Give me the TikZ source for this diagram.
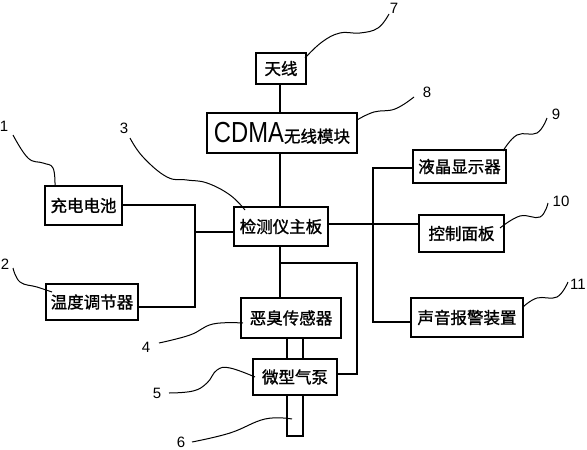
\documentclass[tikz,border=0pt]{standalone}
\usepackage{fontspec}
\setmainfont{Liberation Sans}
\newfontfamily\cjk[FakeBold=1.2]{Noto Sans CJK SC}
\begin{document}
\begin{tikzpicture}[x=1pt,y=-1pt,line width=1.1pt,
  blk/.style={draw,inner sep=0pt,font=\cjk\fontsize{16.5}{16.5}\selectfont},
  num/.style={inner sep=0pt,font=\fontsize{15}{15}\selectfont},
  lead/.style={line width=1pt}]
\useasboundingbox (0,0) rectangle (587,450);
% boxes
\node[blk,minimum width=50pt,minimum height=31pt] (ant) at (281,68.5) {天线};
\node[blk,minimum width=150pt,minimum height=40pt] (cdma) at (282,133)
  {\scalebox{0.82}[1]{\fontsize{29}{29}\selectfont\rmfamily CDMA}无线模块};
\node[blk,minimum width=77pt,minimum height=39pt] (bat) at (83.5,205.5) {充电电池};
\node[blk,minimum width=92pt,minimum height=36pt] (temp) at (92,302) {温度调节器};
\node[blk,minimum width=94pt,minimum height=39pt] (main) at (281,226.5) {检测仪主板};
\node[blk,minimum width=100pt,minimum height=40pt] (sens) at (291,318) {恶臭传感器};
\node[blk,minimum width=84pt,minimum height=36pt] (pump) at (295,377) {微型气泵};
\node[blk,minimum width=93pt,minimum height=33pt] (lcd) at (459.5,166.5) {液晶显示器};
\node[blk,minimum width=85pt,minimum height=37pt] (ctrl) at (461.5,233.5) {控制面板};
\node[blk,minimum width=112pt,minimum height=39pt] (alarm) at (467,317.5) {声音报警装置};
% coordinates
\coordinate (busL) at (195,232);
\coordinate (busR) at (373,224);
\coordinate (br) at (280,263);
\coordinate (tubeBL) at (287,436);
\coordinate (tubeBR) at (303,436);
% connectors
\draw (ant.south -| 280,0) -- (cdma.north -| 280,0);
\draw (cdma.south -| 280,0) -- (main.north -| 280,0);
\draw (bat.east |- 0,205) -| (busL |- 0,307) -- (temp.east |- 0,307);
\draw (busL) -- (main.west |- busL);
\draw (main.east |- busR) -- (ctrl.west |- busR);
\draw (lcd.west |- 0,168) -| (busR |- 0,322) -- (alarm.west |- 0,322);
\draw (main.south -| br) -- (sens.north -| br);
\draw (br) -| (357,374) -- (pump.east |- 0,374);
\draw (sens.south -| tubeBL) -- (pump.north -| tubeBL);
\draw (sens.south -| tubeBR) -- (pump.north -| tubeBR);
\draw (pump.south -| tubeBL) -- (tubeBL) -- (tubeBR) -- (pump.south -| tubeBR);
% labels
\node[num] (n1) at (4,126) {1};
\node[num] (n2) at (5,264) {2};
\node[num] (n3) at (124,128) {3};
\node[num] (n4) at (146,347) {4};
\node[num] (n5) at (157,393) {5};
\node[num] (n6) at (181,442) {6};
\node[num] (n7) at (394,8) {7};
\node[num] (n8) at (427,92) {8};
\node[num] (n9) at (556,114) {9};
\node[num] (n10) at (561,201) {10};
\node[num] (n11) at (578,284) {11};
% leaders
\draw[lead] plot[smooth,tension=0.7] coordinates {(13,135) (28,158) (43,163) (53,168) (55,186)};
\draw[lead] plot[smooth,tension=0.7] coordinates {(13,268) (20,282) (37,287) (52,292)};
\draw[lead] plot[smooth,tension=0.7] coordinates {(130,138) (143,157) (167,177) (187,180) (207,183) (230,195) (245,210)};
\draw[lead] plot[smooth,tension=0.7] coordinates {(159,343) (190,335) (213,324) (243,323)};
\draw[lead] plot[smooth,tension=0.7] coordinates {(169,393) (193,391) (207,383) (217,370) (230,368) (255,377)};
\draw[lead] plot[smooth,tension=0.7] coordinates {(192,442) (230,433) (265,419) (292,419)};
\draw[lead] plot[smooth,tension=0.7] coordinates {(389,14) (378,28) (360,33) (340,33) (322,42) (305,58)};
\draw[lead] plot[smooth,tension=0.7] coordinates {(414,97) (395,109) (374,112) (357,120)};
\draw[lead] plot[smooth,tension=0.7] coordinates {(547,118) (537,133) (517,135) (503,151)};
\draw[lead] plot[smooth,tension=0.7] coordinates {(548,203) (540,217) (520,216) (500,228)};
\draw[lead] plot[smooth,tension=0.7] coordinates {(568,282) (557,297) (537,298) (523,307)};
\end{tikzpicture}
\end{document}
